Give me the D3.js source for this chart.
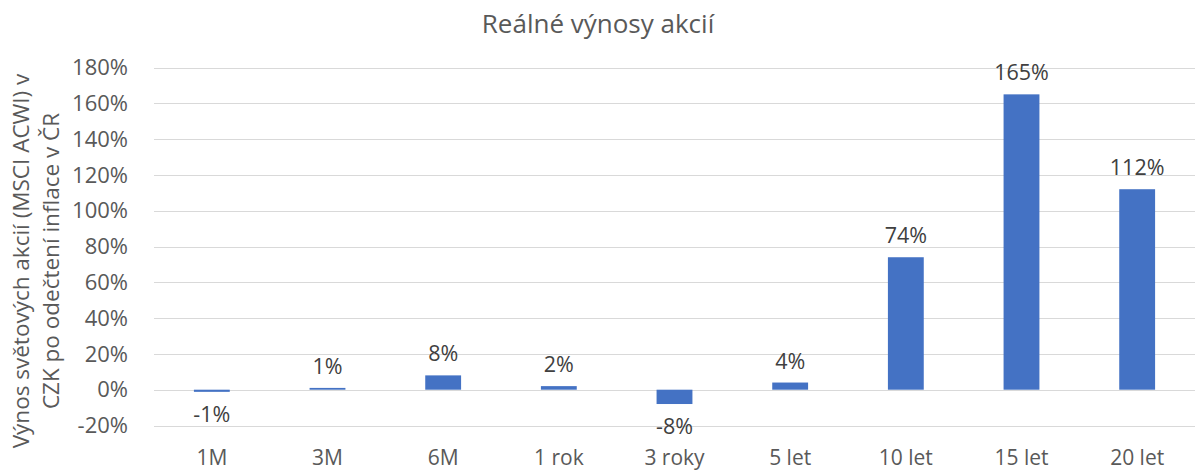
<!DOCTYPE html>
<html>
<head>
<meta charset="utf-8">
<script src="https://cdn.jsdelivr.net/npm/d3@7"></script>
<style>
  body { margin: 0; background: #fff; }
  text { font-family: "Open Sans", sans-serif; }
</style>
</head>
<body>
<div class="box"></div>
<script>
const categories = ["1M", "3M", "6M", "1 rok", "3 roky", "5 let", "10 let", "15 let", "20 let"]
const returns = [-1.2, 1, 8, 2, -8, 4, 74, 165, 112]
const returnLabels = ["-1%", "1%", "8%", "2%", "-8%", "4%", "74%", "165%", "112%"]
const yTicks = [-20, 0, 20, 40, 60, 80, 100, 120, 140, 160, 180]
const title = "Reálné výnosy akcií"
const yTitle = ["Výnos světových akcií (MSCI ACWI) v", "CZK po odečtení inflace v ČR"]

const width = 1196
const height = 470

const svg = d3.select('.box')
    .append('svg')
    .attr('width', width)
    .attr('height', height)

const x = d3.scaleBand()
    .domain(categories)
    .range([154, 1195])
    .paddingInner(0.69)
    .paddingOuter(0.345)

const y = d3.scaleLinear()
    .domain([-20, 180])
    .range([425.5, 67.5])

// gridlines
svg.append('g')
    .selectAll('line')
    .data(yTicks).enter()
    .append('line')
    .attr('x1', 154)
    .attr('x2', 1195)
    .attr('y1', d => Math.round(y(d)) + 0.5)
    .attr('y2', d => Math.round(y(d)) + 0.5)
    .attr('stroke', '#d9d9d9')
    .attr('stroke-width', 1)

// y tick labels
svg.append('g')
    .selectAll('text')
    .data(yTicks).enter()
    .append('text')
    .attr('x', 128)
    .attr('y', d => y(d))
    .attr('dy', '0.35em')
    .attr('text-anchor', 'end')
    .attr('font-size', 22)
    .attr('fill', '#595959')
    .text(d => d + '%')

// bars
svg.append('g')
    .selectAll('rect')
    .data(returns).enter()
    .append('rect')
    .attr('x', (d, i) => x(categories[i]))
    .attr('width', x.bandwidth())
    .attr('y', d => y(Math.max(0, d)))
    .attr('height', d => Math.abs(y(d) - y(0)))
    .attr('fill', '#4472c4')

// data labels
svg.append('g')
    .selectAll('text')
    .data(returns).enter()
    .append('text')
    .attr('x', (d, i) => x(categories[i]) + x.bandwidth() / 2)
    .attr('y', d => d >= 0 ? y(d) - 14 : y(d) + 30)
    .attr('text-anchor', 'middle')
    .attr('font-size', 21.5)
    .attr('fill', '#404040')
    .text((d, i) => returnLabels[i])

// category labels
svg.append('g')
    .selectAll('text')
    .data(categories).enter()
    .append('text')
    .attr('x', d => x(d) + x.bandwidth() / 2)
    .attr('y', 465)
    .attr('text-anchor', 'middle')
    .attr('font-size', 21)
    .attr('fill', '#595959')
    .text(d => d)

// title
svg.append('text')
    .attr('x', 598)
    .attr('y', 33)
    .attr('text-anchor', 'middle')
    .attr('font-size', 26)
    .attr('fill', '#595959')
    .text(title)

// y axis title
svg.append('g')
    .selectAll('text')
    .data(yTitle).enter()
    .append('text')
    .attr('transform', (d, i) => `translate(${29 + i * 30}, 261) rotate(-90)`)
    .attr('text-anchor', 'middle')
    .attr('font-size', 22.5)
    .attr('fill', '#595959')
    .text(d => d)
</script>
</body>
</html>
